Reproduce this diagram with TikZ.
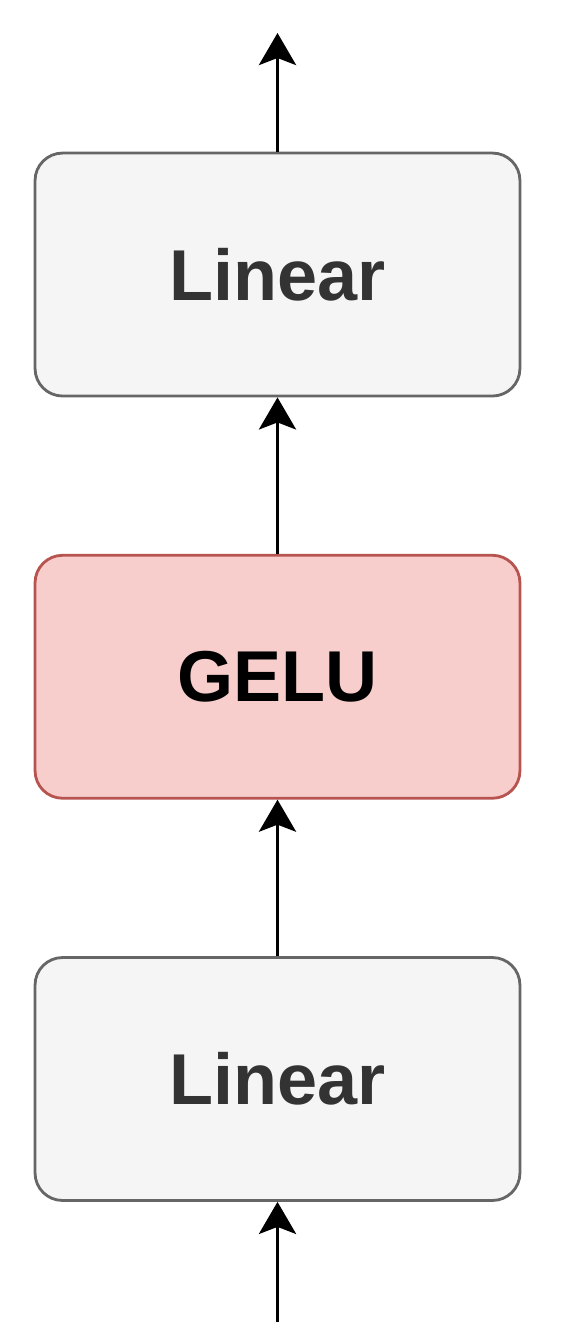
\documentclass[tikz,border=0pt]{standalone}
\usepackage{fontspec}
\setmainfont{Liberation Sans}
\usepackage{xcolor}
\usetikzlibrary{arrows.meta,positioning}
\definecolor{LNFill}{HTML}{F5F5F5}
\definecolor{LNDraw}{HTML}{666666}
\definecolor{LNText}{HTML}{333333}
\definecolor{GEFill}{HTML}{F8CECC}
\definecolor{GEDraw}{HTML}{B85450}

\tikzset{
  block/.style={rounded corners=0.55cm, minimum width=9.7cm, minimum height=4.86cm,
    line width=1.6pt, font=\fontsize{41}{49}\selectfont\bfseries},
  linblock/.style={block, draw=LNDraw, fill=LNFill, text=LNText},
  actblock/.style={block, draw=GEDraw, fill=GEFill, text=black},
  flow/.style={-{Stealth[length=0.64cm,width=0.74cm,inset=0.14cm]}, line width=2.2pt, black}
}

\begin{document}
\begin{tikzpicture}[x=0.02cm,y=-0.02cm]
    \useasboundingbox (0,0) rectangle (561,1343);
    % blocks
    \node[linblock] (lin1) at (277.5,1079) {Linear};
    \node[actblock, above=3.13cm of lin1] (gelu) {GELU};
    \node[linblock, above=3.13cm of gelu] (lin2) {Linear};
    % in / out
    \coordinate (xin) at (277.5,1322);
    \coordinate (xout) at (277.5,33);
    \draw[flow] (xin) -- (lin1);
    \draw[flow] (lin1) -- (gelu);
    \draw[flow] (gelu) -- (lin2);
    \draw[flow] (lin2) -- (xout);
  \end{tikzpicture}
\end{document}
